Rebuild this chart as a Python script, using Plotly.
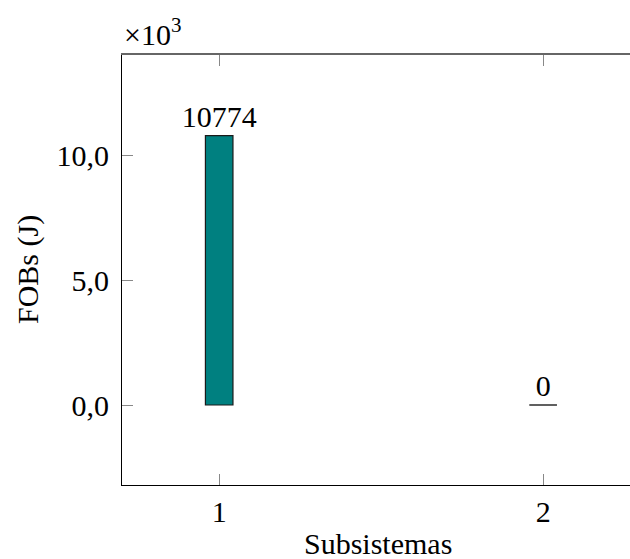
import plotly.graph_objects as go

categories = [1, 2]
values = [10774, 0]
value_labels = ["10774", "0"]
ytick_vals = [0, 5000, 10000]
ytick_text = ["0,0", "5,0", "10,0"]
xtick_vals = [1, 2]
xtick_text = ["1", "2"]

FONT = "Liberation Serif"
BAR_W = 0.085

fig = go.Figure()
fig.add_trace(go.Bar(
    x=categories, y=values, width=BAR_W,
    marker=dict(color="#008080", line=dict(color="#1a1a1a", width=1.2)),
    text=value_labels, textposition="outside", cliponaxis=False, constraintext="none",
    textfont=dict(family=FONT, size=30, color="black"),
))
# zero-height bar outline
for c, v in zip(categories, values):
    if v == 0:
        fig.add_trace(go.Scatter(x=[c - BAR_W / 2, c + BAR_W / 2], y=[v, v], mode="lines",
                                 line=dict(color="#444", width=1.2), hoverinfo="skip"))
# top axis for mirrored ticks
fig.add_trace(go.Scatter(x=[1], y=[0], xaxis="x2", mode="markers", marker=dict(opacity=0),
                         showlegend=False, hoverinfo="skip"))

fig.update_layout(
    width=630, height=559,
    margin=dict(l=122, r=0, t=55, b=74),
    plot_bgcolor="white", paper_bgcolor="white",
    showlegend=False,
    font=dict(family=FONT, size=30, color="black"),
    xaxis=dict(range=[0.7, 2.268], tickvals=xtick_vals, ticktext=xtick_text,
               ticks="inside", ticklen=11, tickcolor="#888", tickwidth=1,
               showline=True, linecolor="black", linewidth=1, showgrid=False, zeroline=False,
               tickfont=dict(family=FONT, size=30)),
    xaxis2=dict(range=[0.7, 2.268], overlaying="x", side="top", tickvals=xtick_vals,
                showticklabels=False, ticks="inside", ticklen=11, tickcolor="#888",
                showline=True, linecolor="#666", linewidth=1.6, showgrid=False, zeroline=False),
    yaxis=dict(range=[-3200, 14000], tickvals=ytick_vals, ticktext=ytick_text,
               ticks="inside", ticklen=11, tickcolor="#888", tickwidth=1,
               showline=True, linecolor="black", linewidth=1, showgrid=False, zeroline=False,
               ticklabelstandoff=6, tickfont=dict(family=FONT, size=30)),
    annotations=[
        dict(text="×10<sup>3</sup>", xref="paper", yref="paper", x=0.0, y=1.0,
             xanchor="left", yanchor="bottom", yshift=2, showarrow=False,
             font=dict(family=FONT, size=30)),
        dict(text="Subsistemas", xref="paper", yref="paper", x=0.503, y=0,
             xanchor="center", yanchor="middle", yshift=-58, showarrow=False,
             font=dict(family=FONT, size=30)),
        dict(text="FOBs (J)", xref="paper", yref="paper", x=0, y=0.5,
             xanchor="center", yanchor="middle", xshift=-94, textangle=-90, showarrow=False,
             font=dict(family=FONT, size=30)),
    ],
)
fig.write_html("out.html", config={"displayModeBar": False},
               post_script="document.body.style.margin='0px';document.body.style.overflow='hidden';")
